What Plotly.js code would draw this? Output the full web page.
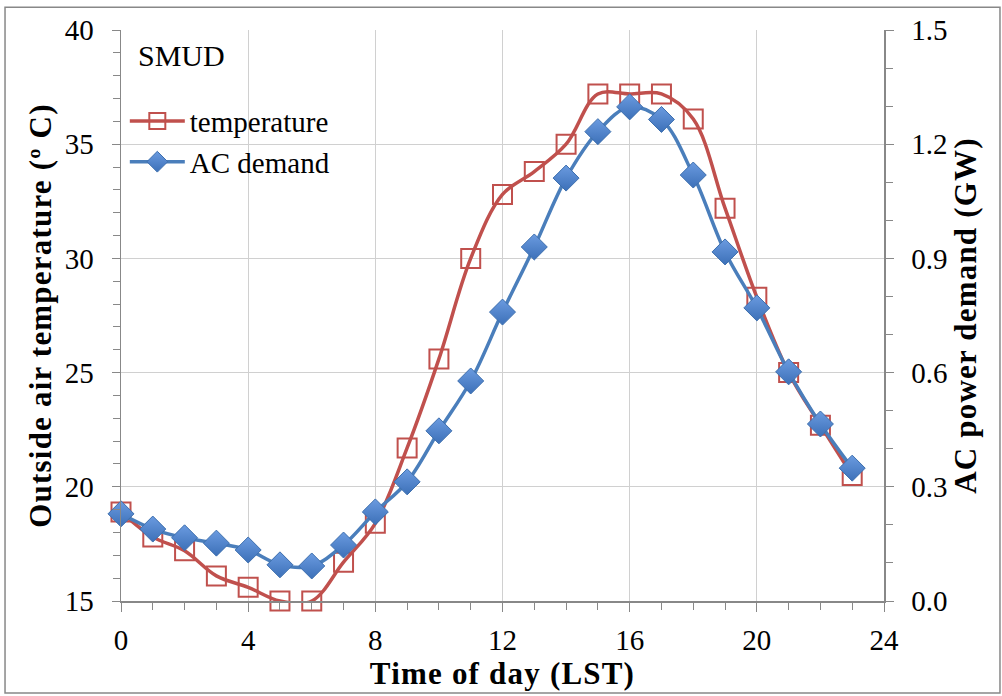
<!DOCTYPE html>
<html>
<head>
<meta charset="utf-8">
<script src="https://cdn.plot.ly/plotly-3.0.1.min.js"></script>
<style>
html,body{margin:0;padding:0;background:#fff;}
#chart{width:1002px;height:696px;}
#chart .xtitle, #chart .ytitle, #chart .y2title{letter-spacing:1.2px;}
</style>
</head>
<body>
<div id="chart"></div>
<script>
const hours = [0,1,2,3,4,5,6,7,8,9,10,11,12,13,14,15,16,17,18,19,20,21,22,23];
const temperature = [18.9,17.8,17.2,16.1,15.6,15.0,15.0,16.7,18.4,21.7,25.6,30.0,32.8,33.8,35.0,37.2,37.2,37.2,36.1,32.2,28.3,25.0,22.7,20.5];
const acDemand = [0.229,0.189,0.166,0.152,0.134,0.095,0.092,0.147,0.234,0.313,0.447,0.578,0.759,0.930,1.111,1.233,1.298,1.265,1.119,0.917,0.770,0.602,0.465,0.349];
const xTicks = [0,4,8,12,16,20,24];
const leftTicks = [15,20,25,30,35,40];
const rightTicks = [0.0,0.3,0.6,0.9,1.2,1.5];

const serif = '"Liberation Serif", "Times New Roman", serif';

const traces = [
  {
    x: hours, y: temperature, name: 'temperature', type: 'scatter', mode: 'lines+markers',
    line: {color: '#C0504D', width: 3.5, shape: 'spline', smoothing: 1},
    marker: {symbol: 'square-open', size: 19, color: '#C0504D', line: {width: 2, color: '#C0504D'}},
    cliponaxis: false
  },
  {
    x: hours, y: acDemand, name: 'AC demand', type: 'scatter', mode: 'lines+markers', yaxis: 'y2',
    line: {color: '#4A7EBB', width: 3.5, shape: 'spline', smoothing: 1},
    marker: {symbol: 'diamond', size: 20, color: '#6B9BE0', line: {width: 1, color: '#3D6FAE'},
             gradient: {type: 'vertical', color: '#3C70B8'}},
    cliponaxis: false
  }
];

const layout = {
  width: 1002, height: 696,
  margin: {l: 121, r: 118, t: 30, b: 95},
  paper_bgcolor: '#fff', plot_bgcolor: '#fff',
  showlegend: true,
  legend: {x: 0.005, y: 0.885, xanchor: 'left', yanchor: 'top', bgcolor: 'rgba(0,0,0,0)',
           font: {family: serif, size: 29, color: '#000'}, tracegroupgap: 0, itemwidth: 55},
  xaxis: {
    range: [0, 24], tickvals: xTicks, ticks: 'outside', ticklen: 9, tickcolor: '#888',
    showline: true, linecolor: '#888', linewidth: 1.5,
    showgrid: true, gridcolor: '#d0d0d0', gridwidth: 1.2, zeroline: false,
    minor: {dtick: 1, ticks: 'outside', ticklen: 7, tickcolor: '#888', showgrid: false},
    tickfont: {family: serif, size: 29, color: '#000'}, ticklabelstandoff: 4,
    title: {text: '<b>Time of day (LST)</b>', font: {family: serif, size: 31, color: '#000'}, standoff: 2}
  },
  yaxis: {
    range: [15, 40], tickvals: leftTicks, ticks: 'outside', ticklen: 8, tickcolor: '#888',
    showline: true, linecolor: '#888', linewidth: 1.5,
    showgrid: true, gridcolor: '#d0d0d0', gridwidth: 1.2, zeroline: false,
    minor: {dtick: 1, ticks: 'outside', ticklen: 7, tickcolor: '#888', showgrid: false},
    tickfont: {family: serif, size: 29, color: '#000'}, ticklabelstandoff: 12,
    title: {text: '<b>Outside air temperature (º C)</b>', font: {family: serif, size: 31, color: '#000'}, standoff: 4}
  },
  yaxis2: {
    overlaying: 'y', side: 'right', range: [0, 1.5], tickvals: rightTicks,
    ticktext: rightTicks.map(v => v.toFixed(1)),
    ticks: 'outside', ticklen: 8, tickcolor: '#888',
    showline: true, linecolor: '#888', linewidth: 1.5,
    showgrid: false, zeroline: false,
    minor: {dtick: 0.1, ticks: 'outside', ticklen: 7, tickcolor: '#888', showgrid: false},
    tickfont: {family: serif, size: 29, color: '#000'}, ticklabelstandoff: 12,
    title: {text: '<b>AC power demand (GW)</b>', font: {family: serif, size: 31, color: '#000'}, standoff: 6}
  },
  annotations: [
    {text: 'SMUD', xref: 'paper', yref: 'paper', x: 0.02, y: 0.955, xanchor: 'left', yanchor: 'middle',
     showarrow: false, font: {family: serif, size: 30, color: '#000'}}
  ],
  shapes: [
    {type: 'rect', xref: 'paper', yref: 'paper', x0: -0.152, x1: 1.152, y0: -0.161, y1: 1.040,
     line: {color: '#888', width: 1.5}, fillcolor: 'rgba(0,0,0,0)', layer: 'below'}
  ]
};

Plotly.newPlot('chart', traces, layout, {displayModeBar: false, staticPlot: true});
</script>
</body>
</html>
